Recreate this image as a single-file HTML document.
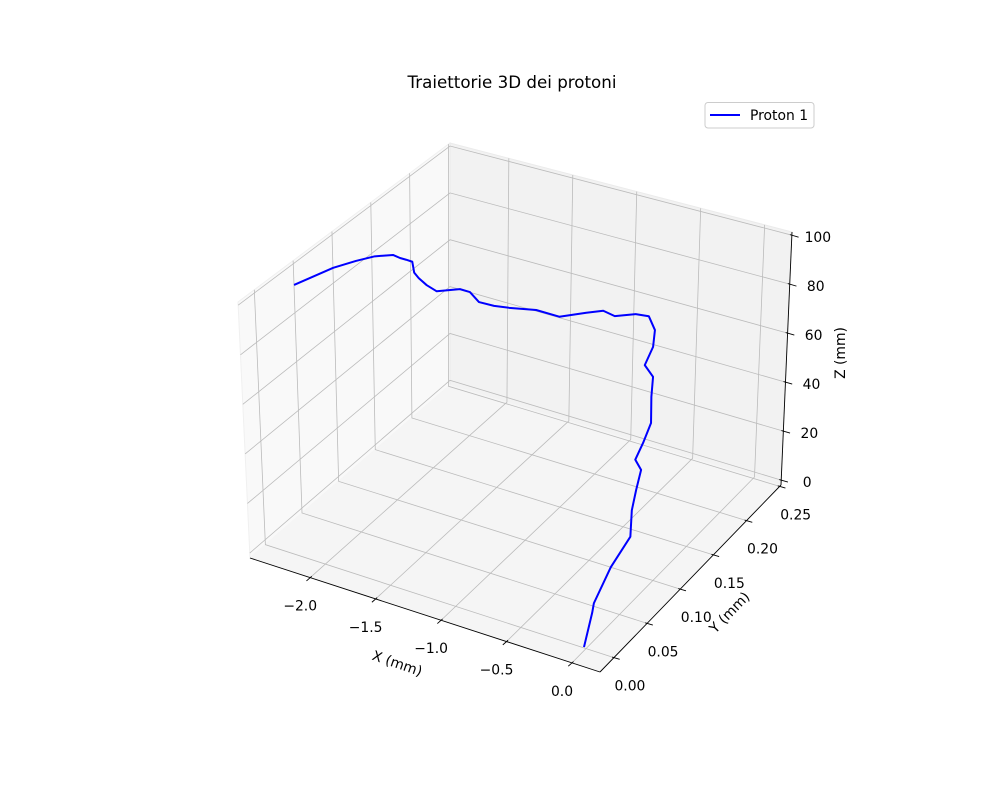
<!DOCTYPE html>
<html>
<head>
<meta charset="utf-8">
<style>
  html, body { margin: 0; padding: 0; background: #ffffff; }
  svg { display: block; font-family: "DejaVu Sans", "Liberation Sans", sans-serif; }
</style>
</head>
<body>
<svg id="chart" width="1000" height="800" viewBox="0 0 1000 800" xmlns="http://www.w3.org/2000/svg">
  <rect x="0" y="0" width="1000" height="800" fill="#ffffff"/>
  <text x="512" y="88" text-anchor="middle" font-size="16.7" fill="#000">Traiettorie 3D dei protoni</text>
  <g id="panes"></g>
  <g id="grid"></g>
  <g id="axes"></g>
  <g id="ticks"></g>
  <g id="series"></g>
  <text x="397" y="664" text-anchor="middle" dominant-baseline="central" font-size="13.9" transform="rotate(19 397 664)">X (mm)</text>
  <text x="730" y="613" text-anchor="middle" dominant-baseline="central" font-size="13.9" transform="rotate(-46 730 613)">Y (mm)</text>
  <text x="841" y="353" text-anchor="middle" dominant-baseline="central" font-size="13.9" transform="rotate(-90 841 353)">Z (mm)</text>
  <g>
    <rect x="705" y="102.5" width="109" height="25.5" rx="3" ry="3" fill="#ffffff" fill-opacity="0.8" stroke="#cccccc" stroke-width="1"/>
    <line x1="710" y1="115" x2="740" y2="115" stroke="#0000ff" stroke-width="2"/>
    <text x="750" y="120" font-size="13.9" fill="#000">Proton 1</text>
  </g>
</svg>
<script>
// ---- chart data ----
const xTicks = [-2.0, -1.5, -1.0, -0.5, 0.0];
const xTickLabels = ["\u22122.0", "\u22121.5", "\u22121.0", "\u22120.5", "0.0"];
const yTicks = [0.00, 0.05, 0.10, 0.15, 0.20, 0.25];
const yTickLabels = ["0.00", "0.05", "0.10", "0.15", "0.20", "0.25"];
const zTicks = [0, 20, 40, 60, 80, 100];
const zTickLabels = ["0", "20", "40", "60", "80", "100"];
const seriesName = "Proton 1";
const protonX = [-2.347, -2.227, -2.140, -2.061, -1.975, -1.921, -1.890, -1.843, -1.828, -1.804,
                 -1.742, -1.665, -1.503, -1.426, -1.356, -1.256, -1.140, -0.932, -0.770, -0.562,
                 -0.432, -0.354, -0.193, -0.092, -0.017, 0.002, -0.023, 0.063, 0.089, 0.142,
                 0.120, 0.093, 0.160, 0.161, 0.172, 0.211, 0.127, 0.069, 0.073, 0.082];
const protonY = [0.020, 0.053, 0.069, 0.081, 0.091, 0.091, 0.094, 0.094, 0.094, 0.096,
                 0.096, 0.096, 0.099, 0.099, 0.099, 0.102, 0.102, 0.102, 0.105, 0.105,
                 0.105, 0.107, 0.107, 0.107, 0.102, 0.096, 0.089, 0.085, 0.078, 0.068,
                 0.061, 0.055, 0.051, 0.044, 0.036, 0.027, 0.015, 0.002, -0.001, -0.014];
const protonZ = [101.2, 101.5, 101.5, 101.5, 100.8, 100.4, 99.4, 99.3, 95.1, 92.7,
                 90.8, 89.5, 92.1, 92.1, 89.1, 88.3, 89.3, 91.6, 90.6, 95.4,
                 98.2, 96.7, 100.0, 100.7, 97.5, 92.5, 86.5, 84.1, 78.2, 70.9,
                 64.3, 58.6, 56.5, 50.2, 44.1, 36.3, 25.7, 13.5, 10.5, 0.0];

// ---- axis ranges ----
const X0 = -2.46, X1 = 0.214, Y0 = -0.021, Y1 = 0.252, Z0 = -2, Z1 = 101.3;
const NS = "http://www.w3.org/2000/svg";

const C = {
  "000": [250, 558], "100": [600, 672], "110": [781, 485], "010": [450, 385],
  "001": [238, 302], "101": [604, 404], "111": [792, 232], "011": [450, 143]
};
function boxProj(x, y, z) {
  const u = (x - X0) / (X1 - X0), v = (y - Y0) / (Y1 - Y0), w = (z - Z0) / (Z1 - Z0);
  const out = [0, 0];
  for (let d = 0; d < 2; d++) {
    const b = (1-u)*(1-v)*C["000"][d] + u*(1-v)*C["100"][d] + u*v*C["110"][d] + (1-u)*v*C["010"][d];
    const t = (1-u)*(1-v)*C["001"][d] + u*(1-v)*C["101"][d] + u*v*C["111"][d] + (1-u)*v*C["011"][d];
    out[d] = b + w * (t - b);
  }
  return out;
}
function proj(x, y, z) {
  const u = (x - X0) / (X1 - X0), v = (y - Y0) / (Y1 - Y0), w = (z - Z0) / (Z1 - Z0);
  return [249.1 + 347*u + 195*v + 1*w, 560.4 + 101*u - 173*v - 254*w];
}
function mk(tag, attrs, parent) {
  const el = document.createElementNS(NS, tag);
  for (const k in attrs) el.setAttribute(k, attrs[k]);
  parent.appendChild(el);
  return el;
}
function ptsStr(arr) { return arr.map(p => p[0].toFixed(2) + "," + p[1].toFixed(2)).join(" "); }

// ---- panes ----
const panes = document.getElementById("panes");
let pane;
pane = mk("polygon", {points: ptsStr([boxProj(X0,Y0,Z0), boxProj(X0,Y1,Z0), boxProj(X0,Y1,Z1), boxProj(X0,Y0,Z1)]), fill: "#f9f9f9", stroke: "#f0f0f0", "stroke-width": 1}, panes);


pane = mk("polygon", {points: ptsStr([boxProj(X0,Y1,Z0), boxProj(X1,Y1,Z0), boxProj(X1,Y1,Z1), boxProj(X0,Y1,Z1)]), fill: "#f2f2f2", stroke: "#ebebeb", "stroke-width": 1}, panes);


pane = mk("polygon", {points: ptsStr([boxProj(X0,Y0,Z0), boxProj(X1,Y0,Z0), boxProj(X1,Y1,Z0), boxProj(X0,Y1,Z0)]), fill: "#f5f5f5", stroke: "#f5f5f5", "stroke-width": 1}, panes);



// ---- grid ----
const grid = document.getElementById("grid");
const gs = {fill: "none", stroke: "#bbbbbb", "stroke-width": 0.8};
xTicks.forEach((t, i) => {
  const pl = mk("polyline", Object.assign({points: ptsStr([boxProj(t,Y0,Z0), boxProj(t,Y1,Z0), boxProj(t,Y1,Z1)])}, gs), grid);
  
  
});
yTicks.forEach((t, i) => {
  const pl = mk("polyline", Object.assign({points: ptsStr([boxProj(X1,t,Z0), boxProj(X0,t,Z0), boxProj(X0,t,Z1)])}, gs), grid);
  
  
});
zTicks.forEach((t, i) => {
  const pl = mk("polyline", Object.assign({points: ptsStr([boxProj(X0,Y0,t), boxProj(X0,Y1,t), boxProj(X1,Y1,t)])}, gs), grid);
  
  
});

// ---- axis lines ----
const axes = document.getElementById("axes");
const as = {stroke: "#000", "stroke-width": 0.9, fill: "none"};
let al;
al = mk("polyline", Object.assign({points: ptsStr([boxProj(X0,Y0,Z0), boxProj(X1,Y0,Z0)])}, as), axes);


al = mk("polyline", Object.assign({points: ptsStr([boxProj(X1,Y0,Z0), boxProj(X1,Y1,Z0)])}, as), axes);


al = mk("polyline", Object.assign({points: ptsStr([boxProj(X1,Y1,Z0), boxProj(X1,Y1,Z1)])}, as), axes);



// ---- ticks + labels ----
const ticks = document.getElementById("ticks");
function tick(p, dir, outLen, inLen, name) {
  const ln = mk("line", {x1: p[0] - dir[0]*inLen, y1: p[1] - dir[1]*inLen, x2: p[0] + dir[0]*outLen, y2: p[1] + dir[1]*outLen, stroke: "#000", "stroke-width": 0.9}, ticks);
  
  
}
function label(x, y, txt, name) {
  const tx = mk("text", {x: x, y: y, "text-anchor": "middle", "dominant-baseline": "central", "font-size": 13.9, fill: "#000"}, ticks);
  tx.textContent = txt;
  
  
}
const dX = [-0.75, 0.66], dY = [0.96, 0.28], dZ = [0.96, 0.28];
xTicks.forEach((t, i) => {
  const p = boxProj(t, Y0, Z0);
  tick(p, dX, 5, 2, 'x-tick-mark');
  label(p[0] - 10, p[1] + 29, xTickLabels[i], 'x-tick-label');
});
yTicks.forEach((t, i) => {
  const p = boxProj(X1, t, Z0);
  tick(p, dY, 6, 2, 'y-tick-mark');
  label(p[0] + 16, p[1] + 29, yTickLabels[i], 'y-tick-label');
});
zTicks.forEach((t, i) => {
  const p = boxProj(X1, Y1, t);
  tick(p, dZ, 7, 2, 'z-tick-mark');
  label(p[0] + 26, p[1] + 3, zTickLabels[i], 'z-tick-label');
});

// ---- series ----
const series = document.getElementById("series");
const pts = protonX.map((x, i) => proj(x, protonY[i], protonZ[i]));
const line = mk("polyline", {points: ptsStr(pts), fill: "none", stroke: "#0000ff", "stroke-width": 2, "stroke-linejoin": "round", "stroke-linecap": "butt"}, series);


</script>
</body>
</html>
